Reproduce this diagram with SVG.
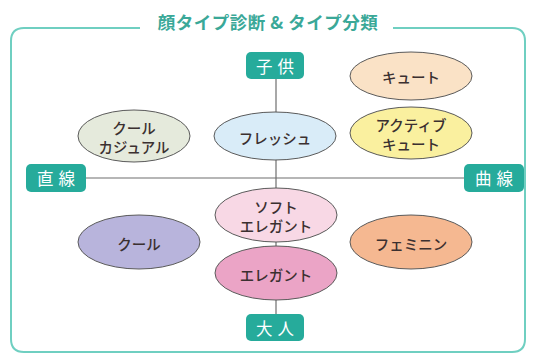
<svg xmlns="http://www.w3.org/2000/svg" width="535" height="358" viewBox="0 0 535 358">
<style>
.t{font-family:"Noto Sans CJK JP","Noto Sans",sans-serif;font-size:14.5px;fill:#3b3030;text-anchor:middle;dominant-baseline:central;font-weight:500}
.lbl{font-family:"Noto Sans CJK JP","Noto Sans",sans-serif;font-size:16.5px;fill:#ffffff;text-anchor:middle;dominant-baseline:central;letter-spacing:5px}
.box{fill:#26ab9b}
.el{stroke:#5a5a5a;stroke-width:1}
.ax{stroke:#6e6e6e;stroke-width:1.2;fill:none}
</style>
<rect width="535" height="358" fill="#ffffff"/>
<path d="M140 28 H24 Q11 28 11 41 V339 Q11 352 24 352 H512 Q525 352 525 339 V41 Q525 28 512 28 H393" fill="none" stroke="#6fcfc1" stroke-width="2"/>
<text x="268" y="21" font-family="'Noto Sans CJK JP',sans-serif" font-size="17.5" font-weight="700" fill="#3aa898" text-anchor="middle" dominant-baseline="central" letter-spacing="0.5">顔タイプ診断 &amp; タイプ分類</text>
<g id="connectors">
<line class="ax" x1="276" y1="79" x2="276" y2="314"/>
<line class="ax" x1="86" y1="178" x2="464" y2="178"/>
</g>
<g id="kodomo"><rect class="box" x="246" y="52" width="58" height="27" rx="5"/><text class="lbl" x="277.5" y="65.5">子供</text></g>
<g id="otona"><rect class="box" x="246" y="314" width="58" height="27" rx="5"/><text class="lbl" x="277.5" y="327.5">大人</text></g>
<g id="chokusen"><rect class="box" x="26" y="164" width="60" height="28" rx="5"/><text class="lbl" x="58.5" y="178">直線</text></g>
<g id="kyokusen"><rect class="box" x="464" y="164" width="60" height="28" rx="5"/><text class="lbl" x="496.5" y="178">曲線</text></g>
<g id="cool-casual"><ellipse class="el" cx="134" cy="136" rx="56" ry="26" fill="#e5eadc"/><text class="t" x="134" y="127">クール</text><text class="t" x="134" y="146">カジュアル</text></g>
<g id="fresh"><ellipse class="el" cx="275" cy="136" rx="61" ry="24" fill="#d9ecf8"/><text class="t" x="275" y="137">フレッシュ</text></g>
<g id="cute"><ellipse class="el" cx="411" cy="76" rx="61" ry="24" fill="#fae2c6"/><text class="t" x="411" y="76">キュート</text></g>
<g id="active-cute"><ellipse class="el" cx="411" cy="133" rx="61" ry="26" fill="#faf09f"/><text class="t" x="411" y="124">アクティブ</text><text class="t" x="411" y="143">キュート</text></g>
<g id="soft-elegant"><ellipse class="el" cx="276" cy="215" rx="61" ry="27" fill="#f8d8e5"/><text class="t" x="276" y="206">ソフト</text><text class="t" x="276" y="225">エレガント</text></g>
<g id="elegant"><ellipse class="el" cx="276" cy="273" rx="61" ry="27" fill="#eba4c6"/><text class="t" x="276" y="274">エレガント</text></g>
<g id="cool"><ellipse class="el" cx="139" cy="242" rx="61" ry="27" fill="#b8b4dc"/><text class="t" x="139" y="243">クール</text></g>
<g id="feminine"><ellipse class="el" cx="411" cy="242" rx="61" ry="27" fill="#f5b891"/><text class="t" x="411" y="243">フェミニン</text></g>
</svg>
